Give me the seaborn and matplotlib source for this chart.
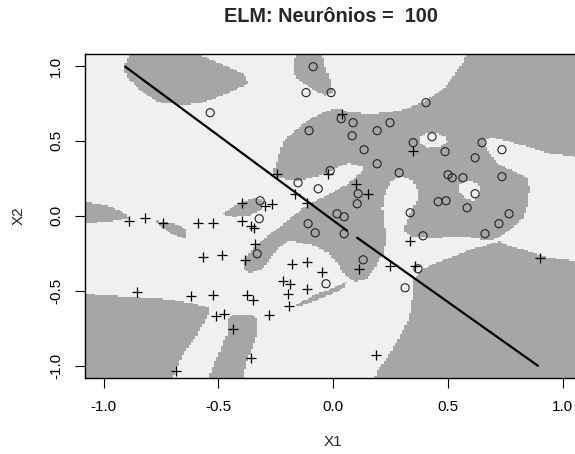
import matplotlib

matplotlib.use("Agg")
import matplotlib.pyplot as plt
import numpy as np
import seaborn as sns
from matplotlib.colors import ListedColormap
from matplotlib.path import Path

# ---- data ------------------------------------------------------------------
circle_x = [-0.536, -0.087, -0.118, -0.009, 0.035, 0.087, 0.248, -0.105, 0.083, 0.192,
            0.135, 0.405, 0.431, 0.349, 0.488, 0.649, 0.736, 0.619, 0.501, 0.519,
            0.566, 0.736, 0.192, 0.288, 0.619, 0.458, 0.492, 0.584, 0.767, 0.336,
            0.723, 0.662, 0.392, 0.370, 0.314, -0.013, -0.153, -0.065, 0.109, 0.105,
            -0.318, 0.017, 0.048, -0.322, -0.109, -0.078, 0.048, -0.331, 0.131, -0.031]
circle_y = [0.688, 0.995, 0.822, 0.822, 0.648, 0.621, 0.621, 0.568, 0.534, 0.568,
            0.441, 0.755, 0.528, 0.488, 0.428, 0.488, 0.441, 0.387, 0.274, 0.254,
            0.254, 0.261, 0.347, 0.287, 0.147, 0.094, 0.100, 0.053, 0.013, 0.020,
            -0.053, -0.120, -0.134, -0.354, -0.481, 0.301, 0.220, 0.180, 0.147, 0.080,
            0.100, 0.013, -0.007, -0.020, -0.053, -0.114, -0.120, -0.254, -0.294, -0.454]

cross_x = [0.039, 0.349, 0.336, 0.902, 0.357, -0.244, -0.022, -0.166, 0.100, 0.153,
           -0.113, -0.397, -0.296, -0.266, -0.397, -0.360, -0.345, -0.340, -0.383, -0.179,
           -0.113, 0.113, 0.248, -0.889, -0.819, -0.741, -0.588, -0.523, -0.566, -0.484,
           -0.854, -0.619, -0.523, -0.375, -0.510, -0.475, -0.436, -0.684, -0.048, -0.218,
           -0.187, -0.113, -0.349, -0.196, -0.192, -0.279, -0.357, 0.187]
cross_y = [0.681, 0.434, -0.167, -0.281, -0.334, 0.281, 0.281, 0.147, 0.214, 0.147,
           0.087, 0.087, 0.067, 0.080, -0.033, -0.067, -0.080, -0.187, -0.294, -0.321,
           -0.307, -0.354, -0.334, -0.033, -0.013, -0.047, -0.047, -0.047, -0.274, -0.261,
           -0.508, -0.534, -0.528, -0.528, -0.668, -0.655, -0.755, -1.035, -0.374, -0.434,
           -0.454, -0.488, -0.561, -0.521, -0.601, -0.661, -0.949, -0.929]

# linear separator (two pieces, small gap in the middle)
sep1_x = [-0.906, 0.061]
sep1_y = [0.995, -0.100]
sep2_x = [0.105, 0.893]
sep2_y = [-0.147, -1.002]

# class regions: outlines of the grey (class "o") areas; holes toggle back
blob_top_left = [(-0.915, 0.995), (-0.898, 0.922), (-0.854, 0.855), (-0.810, 0.802),
                 (-0.754, 0.755), (-0.645, 0.741), (-0.566, 0.755), (-0.462, 0.815),
                 (-0.370, 0.882), (-0.392, 0.949), (-0.523, 1.035), (-0.623, 1.10),
                 (-0.863, 1.10), (-0.893, 1.055)]
blob_top = [(-0.157, 1.10), (-0.174, 0.989), (-0.161, 0.915), (-0.122, 0.875),
            (-0.083, 0.835), (-0.031, 0.802), (0.0, 0.822), (-0.013, 0.902),
            (-0.035, 0.989), (-0.052, 1.10)]
main_region = [(0.584, 1.10), (1.10, 1.10), (1.10, 0.387), (0.946, 0.414), (0.802, 0.481),
               (0.697, 0.521), (0.654, 0.501), (0.671, 0.434), (0.715, 0.347), (0.784, 0.301),
               (0.845, 0.254), (0.858, 0.187), (0.850, 0.080), (0.828, -0.013), (0.784, -0.080),
               (0.741, -0.120), (0.715, -0.154), (0.654, -0.160), (0.584, -0.140), (0.436, -0.147),
               (0.349, -0.140), (0.314, -0.114), (0.314, -0.067), (0.336, 0.020), (0.366, 0.100),
               (0.370, 0.167), (0.349, 0.234), (0.301, 0.261), (0.257, 0.234), (0.227, 0.154),
               (0.214, 0.053), (0.222, -0.047), (0.231, -0.154), (0.218, -0.247), (0.183, -0.341),
               (0.144, -0.421), (0.100, -0.441), (0.052, -0.394), (0.017, -0.314), (-0.022, -0.247),
               (-0.078, -0.200), (-0.144, -0.180), (-0.196, -0.167), (-0.240, -0.220), (-0.275, -0.287),
               (-0.309, -0.354), (-0.362, -0.381), (-0.392, -0.354), (-0.383, -0.281), (-0.349, -0.214),
               (-0.296, -0.147), (-0.231, -0.073), (-0.179, -0.007), (-0.135, 0.047), (-0.057, 0.114),
               (0.013, 0.167), (0.065, 0.214), (0.109, 0.274), (0.135, 0.321), (0.105, 0.341),
               (0.065, 0.347), (0.017, 0.321), (-0.057, 0.267), (-0.157, 0.234), (-0.253, 0.254),
               (-0.261, 0.301), (-0.244, 0.367), (-0.231, 0.434), (-0.214, 0.501), (-0.174, 0.554),
               (-0.113, 0.635), (-0.044, 0.688), (0.017, 0.715), (0.074, 0.688), (0.174, 0.681),
               (0.292, 0.701), (0.379, 0.748), (0.453, 0.815), (0.497, 0.868), (0.532, 0.949),
               (0.566, 1.022)]
hole_upper = [(0.379, 0.521), (0.405, 0.548), (0.453, 0.548), (0.492, 0.521),
              (0.497, 0.488), (0.462, 0.461), (0.410, 0.454), (0.384, 0.481)]
hole_middle = [(0.545, 0.194), (0.575, 0.234), (0.632, 0.220), (0.641, 0.154),
               (0.614, 0.100), (0.580, 0.114), (0.553, 0.154)]
bottom_right = [(0.174, -1.12), (0.192, -1.035), (0.235, -0.949), (0.279, -0.835),
                (0.309, -0.748), (0.331, -0.681), (0.344, -0.588), (0.349, -0.434),
                (0.379, -0.367), (0.436, -0.321), (0.510, -0.281), (0.584, -0.234),
                (0.684, -0.187), (0.728, -0.174), (0.758, -0.194), (0.845, -0.234),
                (0.946, -0.281), (1.10, -0.307), (1.10, -1.12)]
sliver = [(-0.157, -0.588), (-0.070, -0.521), (0.0, -0.481), (0.061, -0.441),
          (0.039, -0.488), (-0.044, -0.548), (-0.113, -0.588), (-0.166, -0.608)]
wedge_left = [(-1.10, 0.100), (-0.985, 0.067), (-0.928, 0.033), (-0.898, 0.0),
              (-0.893, -0.020), (-0.985, -0.040), (-1.10, -0.053)]
blob_left = [(-0.771, -0.033), (-0.710, -0.047), (-0.658, -0.073), (-0.636, -0.100),
             (-0.636, -0.154), (-0.675, -0.140), (-0.719, -0.107), (-0.758, -0.067)]
blob_centre_left = [(-0.484, 0.013), (-0.436, 0.060), (-0.383, 0.100), (-0.340, 0.120),
                    (-0.301, 0.100), (-0.314, 0.040), (-0.370, 0.0), (-0.440, -0.007)]
bottom_left = [(-1.10, -0.521), (-1.002, -0.528), (-0.885, -0.541), (-0.741, -0.554),
               (-0.623, -0.581), (-0.536, -0.615), (-0.536, -0.641), (-0.566, -0.721),
               (-0.610, -0.835), (-0.654, -0.922), (-0.680, -1.015), (-0.719, -1.12),
               (-1.10, -1.12)]
band_bottom = [(-0.458, -0.681), (-0.423, -0.655), (-0.362, -0.655), (-0.331, -0.688),
               (-0.331, -0.788), (-0.353, -0.882), (-0.375, -0.969), (-0.392, -1.055),
               (-0.401, -1.12), (-0.549, -1.12), (-0.536, -1.049), (-0.514, -0.969),
               (-0.488, -0.882), (-0.462, -0.788)]

region_outlines = [blob_top_left, blob_top, main_region, hole_upper, hole_middle,
                   bottom_right, sliver, wedge_left, blob_left, blob_centre_left,
                   bottom_left, band_bottom]

LIGHT = "#F0F0F0"
GREY = "#A6A6A6"

sns.set_style("ticks")
plt.rcParams["font.family"] = ["Liberation Sans", "DejaVu Sans"]


def region_grid(step=0.01, lim=1.08):
    edges = np.arange(-lim, lim + step / 2, step)
    centres = (edges[:-1] + edges[1:]) / 2
    gx, gy = np.meshgrid(centres, centres)
    pts = np.column_stack([gx.ravel(), gy.ravel()])
    inside = np.zeros(len(pts), dtype=bool)
    for outline in region_outlines:
        inside ^= Path(outline).contains_points(pts)
    return edges, inside.reshape(gx.shape).astype(int)


def main():
    fig = plt.figure(figsize=(5.75, 4.54), dpi=100)
    ax = fig.add_axes([0.1485, 0.1685, 0.8617, 0.7126])

    edges, grid = region_grid()
    ax.pcolormesh(edges, edges, grid, cmap=ListedColormap([LIGHT, GREY]),
                  shading="flat", antialiased=False, rasterized=True)

    for sx, sy in ((sep1_x, sep1_y), (sep2_x, sep2_y)):
        sns.lineplot(x=sx, y=sy, sort=False, estimator=None, color="black",
                     linewidth=1.6, ax=ax)

    sns.scatterplot(x=circle_x, y=circle_y, marker="o", s=34, facecolor="none",
                    edgecolor="#222222", linewidth=0.8, ax=ax, zorder=3)
    sns.scatterplot(x=cross_x, y=cross_y, marker="+", s=60, color="black",
                    linewidth=0.9, ax=ax, zorder=3)

    ax.set_xlim(-1.08, 1.08)
    ax.set_ylim(-1.08, 1.08)
    ticks = [-1.0, -0.5, 0.0, 0.5, 1.0]
    ax.set_xticks(ticks, [f"{t:.1f}" for t in ticks])
    ax.set_yticks(ticks, [f"{t:.1f}" for t in ticks])
    ax.tick_params(axis="both", length=7, width=0.8, pad=9, labelsize=11,
                   color="black", labelcolor="black")
    for lbl in ax.get_yticklabels():
        lbl.set_rotation(90)
        lbl.set_va("center")
    for spine in ax.spines.values():
        spine.set_visible(True)
        spine.set_color("black")
        spine.set_linewidth(1.0)

    ax.set_xlabel("X1", fontsize=11)
    ax.set_ylabel("X2", fontsize=11)
    ax.xaxis.set_label_coords(0.5, -0.178)
    ax.yaxis.set_label_coords(-0.121, 0.5)
    fig.text(331 / 575, 1 - 16 / 454, "ELM: Neurônios =  100", ha="center",
             va="center", fontsize=14.3, fontweight="bold")

    fig.savefig("out.png", dpi=100)
    plt.close(fig)


if __name__ == "__main__":
    main()
